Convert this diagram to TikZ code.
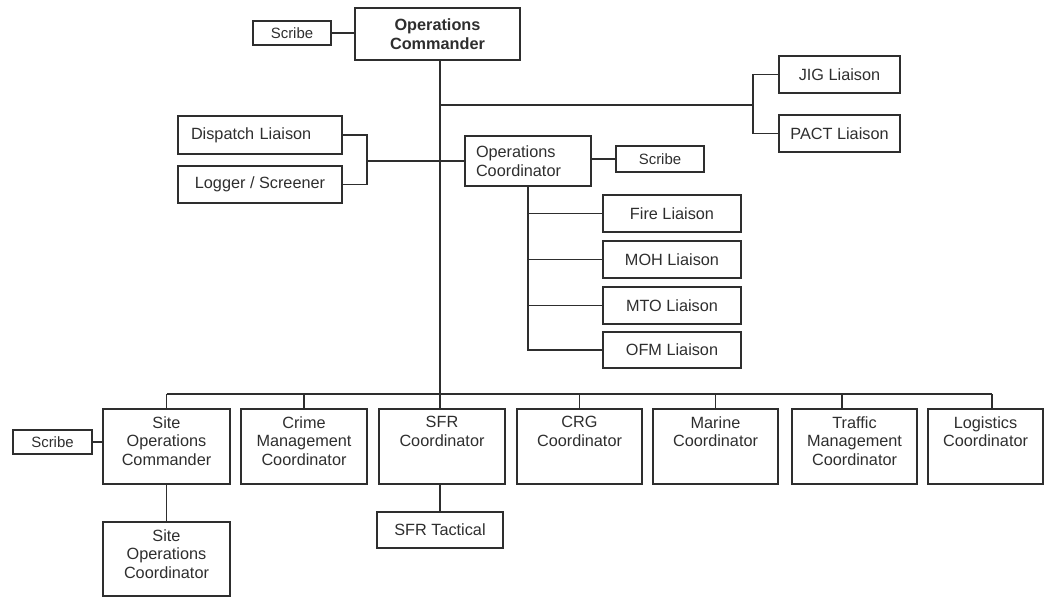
\documentclass[tikz,border=0pt]{standalone}
\usepackage{fontspec}
\setmainfont{Liberation Sans}
\definecolor{ink}{HTML}{2E2E2E}
\newcommand\orgfont{\fontsize{12.2pt}{13.8pt}\selectfont}
\newcommand\scribefont{\fontsize{11.2pt}{13pt}\selectfont}
\begin{document}
\begin{tikzpicture}[x=0.75pt,y=-0.75pt,
  conn/.style={draw=ink,line width=1.1pt},
  sz/.style 2 args={minimum width=#1*0.75pt,minimum height=#2*0.75pt},
  box/.style={draw=ink,line width=1.1pt,rectangle,inner sep=0pt,text=ink,font=\orgfont,align=center},
  scribebox/.style={box,font=\scribefont},
  headbox/.style={box,line width=2.2pt,font=\orgfont\bfseries},
  topbox/.style={box,label={[anchor=north,inner sep=0pt,yshift=-6pt,align=center,font=\orgfont,text=ink]north:#1}},
]
\useasboundingbox (0,0) rectangle (1047,604);

% command level
\node[headbox,sz={165}{52}] (cmd) at (437.5,34) {Operations\\Commander};
\node[scribebox,sz={78}{24}] (scribeA) at (292,33) {Scribe};
\node[box,sz={121}{37}] (jig) at (839.5,74.5) {JIG Liaison};
\node[box,sz={121}{37}] (pact) at (839.5,133.5) {PACT Liaison};

% coordination level
\node[box,sz={164}{38},text width=103.5pt,align=left,inner xsep=9.75pt] (dispatch) at (260,135) {Dispatch Liaison};
\node[box,sz={164}{37}] (logger) at (260,184.5) {Logger / Screener};
\node[box,sz={126}{50},text width=78pt,align=left,inner xsep=8.25pt] (opc) at (528,161) {Operations\\Coordinator};
\node[scribebox,sz={88}{26}] (scribeB) at (660,159) {Scribe};
\node[box,sz={138}{37}] (fire) at (672,213.5) {Fire Liaison};
\node[box,sz={138}{37}] (moh) at (672,259.5) {MOH Liaison};
\node[box,sz={138}{37}] (mto) at (672,305.5) {MTO Liaison};
\node[box,sz={138}{36}] (ofm) at (672,350) {OFM Liaison};

% field coordinators
\node[topbox={Site\\Operations\\Commander},sz={127}{75}] (soc) at (166.5,446.5) {};
\node[topbox={Crime\\Management\\Coordinator},sz={126}{75}] (crime) at (304,446.5) {};
\node[topbox={SFR\\Coordinator},sz={126}{75}] (sfr) at (442,446.5) {};
\node[topbox={CRG\\Coordinator},sz={125}{75}] (crg) at (579.5,446.5) {};
\node[topbox={Marine\\Coordinator},sz={125}{75}] (marine) at (715.5,446.5) {};
\node[topbox={Traffic\\Management\\Coordinator},sz={125}{75}] (traffic) at (854.5,446.5) {};
\node[topbox={Logistics\\Coordinator},sz={115}{75}] (logistics) at (985.5,446.5) {};
\node[scribebox,sz={79}{24}] (scribeC) at (52.5,442) {Scribe};
\node[topbox={Site\\Operations\\Coordinator},sz={127}{74}] (socc) at (166.5,559) {};
\node[box,sz={126}{36}] (sfrt) at (440,530) {SFR Tactical};

% junction points
\coordinate (trunk) at (440,394);
\coordinate (jigfork) at (753,105);
\coordinate (lfork) at (367,161);
\coordinate (tdrop) at (842,394);
\coordinate (busend) at (992,394);

% connectors
\draw[conn] (scribeA.east) -- (scribeA.east -| cmd.west);
\draw[conn] (cmd.south -| trunk) -- (trunk);
\draw[conn] (jigfork -| trunk) -- (jigfork);
\draw[conn] (jig.west) -- (jig.west -| jigfork) -- (pact.west -| jigfork) -- (pact.west);
\draw[conn] (dispatch.east) -- (dispatch.east -| lfork) -- (logger.east -| lfork) -- (logger.east);
\draw[conn] (lfork) -- (opc.west);
\draw[conn] (opc.east |- scribeB.west) -- (scribeB.west);
\draw[conn] (opc.south) -- (opc.south |- ofm.west) -- (ofm.west);
\foreach \n in {fire,moh,mto} \draw[conn] (opc.south |- \n.west) -- (\n.west);
\draw[conn] (soc.north |- trunk) -- (busend);
\foreach \n in {soc,crime,crg,marine} \draw[conn] (\n.north) -- (\n.north |- trunk);
\draw[conn] (trunk) -- (trunk |- sfr.north);
\draw[conn] (tdrop) -- (tdrop |- traffic.north);
\draw[conn] (busend) -- (busend |- logistics.north);
\draw[conn] (scribeC.east) -- (scribeC.east -| soc.west);
\draw[conn] (soc.south) -- (socc.north);
\draw[conn] (trunk |- sfr.south) -- (trunk |- sfrt.north);
\end{tikzpicture}
\end{document}
